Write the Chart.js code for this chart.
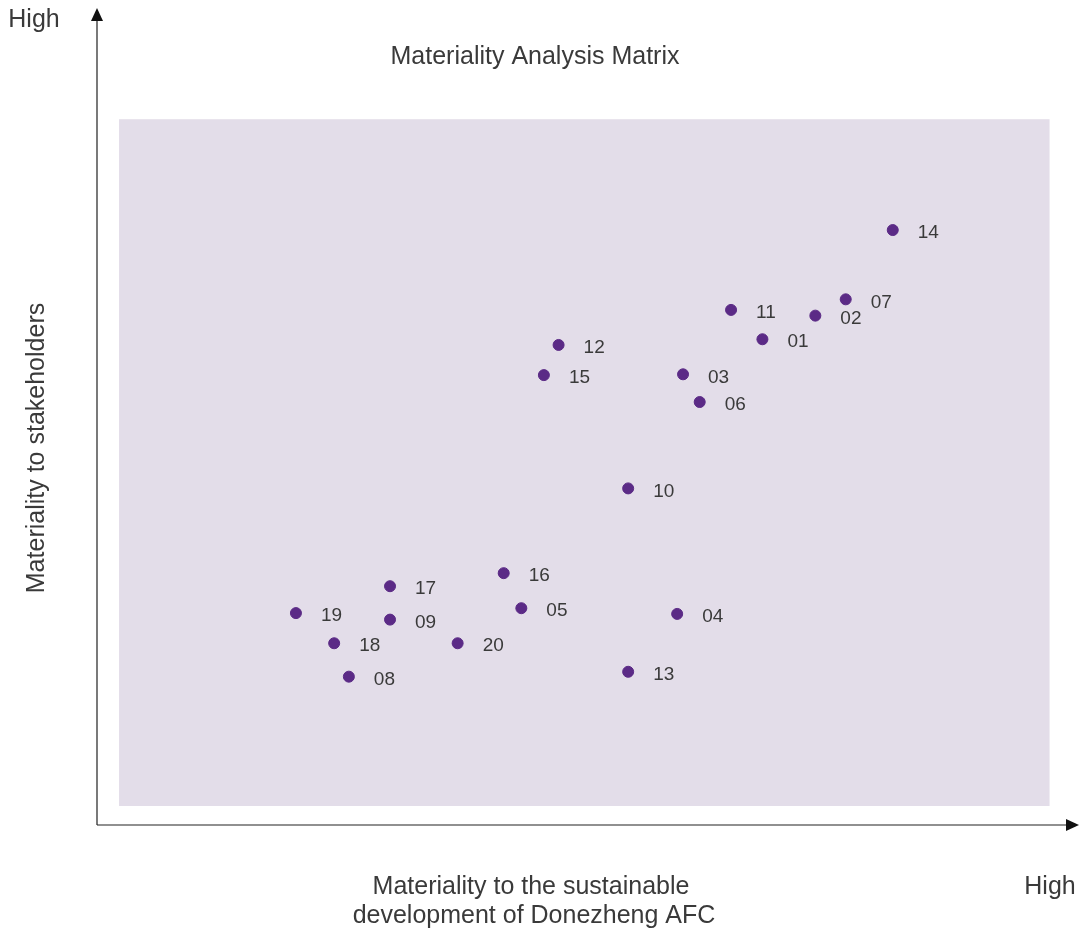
<!DOCTYPE html>
<html>
<head>
<meta charset="utf-8">
<title>Materiality Analysis Matrix</title>
<script src="https://cdn.jsdelivr.net/npm/chart.js@4.4.1/dist/chart.umd.min.js"></script>
<style>
    html, body { margin: 0; padding: 0; background: #ffffff; overflow: hidden; }
    #wrap { width: 1081px; height: 933px; position: relative; }
</style>
</head>
<body>
<div id="wrap"><canvas id="matrixChart"></canvas></div>
<script>
// Issue numbers and their position on the matrix (0-100 on both axes)
const ISSUES = ['14', '07', '02', '11', '01', '12', '15', '03', '06', '10',
                '16', '17', '19', '09', '05', '04', '18', '20', '08', '13'];
const X_VALUES = [81.2, 76.4, 73.3, 64.7, 67.9, 47.1, 45.6, 59.8, 61.5, 54.2,
                  41.5, 29.9, 20.3, 29.9, 43.3, 59.2, 24.2, 36.8, 25.7, 54.2];
const Y_VALUES = [73.0, 64.5, 62.5, 63.2, 59.6, 58.9, 55.2, 55.3, 51.9, 41.3,
                  30.9, 29.3, 26.0, 25.2, 26.6, 25.9, 22.3, 22.3, 18.2, 18.8];

const TITLE = 'Materiality Analysis Matrix';
const X_TITLE = ['Materiality to the sustainable', 'development of Donezheng AFC'];
const Y_TITLE = 'Materiality to stakeholders';
const HIGH = 'High';

const FONT = '"Liberation Sans", Arial, sans-serif';
const TEXT_COLOR = '#3a3a3a';
const DOT_COLOR = '#5b2a86';

// Shaded area, axes with arrows, labels and titles
const matrixPlugin = {
    id: 'matrix',
    beforeDatasetsDraw(chart) {
        const { ctx, scales: { x, y } } = chart;
        ctx.save();
        ctx.fillStyle = '#e3dde9';
        const x0 = x.getPixelForValue(2.25), x1 = x.getPixelForValue(97.2);
        const y0 = y.getPixelForValue(86.6), y1 = y.getPixelForValue(2.33);
        ctx.fillRect(x0, y0, x1 - x0, y1 - y0);

        // axes
        const ox = x.getPixelForValue(0), oy = y.getPixelForValue(0);
        const ex = x.getPixelForValue(100), ey = y.getPixelForValue(100);
        ctx.strokeStyle = '#222';
        ctx.lineWidth = 1.2;
        ctx.beginPath();
        ctx.moveTo(ox, oy);
        ctx.lineTo(ox, ey + 8);
        ctx.moveTo(ox, oy);
        ctx.lineTo(ex - 8, oy);
        ctx.stroke();
        ctx.fillStyle = '#111';
        ctx.beginPath();
        ctx.moveTo(ox, ey - 2);
        ctx.lineTo(ox - 6, ey + 11);
        ctx.lineTo(ox + 6, ey + 11);
        ctx.closePath();
        ctx.fill();
        ctx.beginPath();
        ctx.moveTo(ex + 2, oy);
        ctx.lineTo(ex - 11, oy - 6);
        ctx.lineTo(ex - 11, oy + 6);
        ctx.closePath();
        ctx.fill();
        ctx.restore();
    },
    afterDatasetsDraw(chart) {
        const { ctx } = chart;
        const meta = chart.getDatasetMeta(0);
        ctx.save();
        ctx.fillStyle = TEXT_COLOR;
        ctx.font = '19px ' + FONT;
        ctx.textAlign = 'left';
        ctx.textBaseline = 'middle';
        meta.data.forEach((pt, i) => {
            ctx.fillText(ISSUES[i], pt.x + 25, pt.y + 3);
        });

        ctx.font = '25px ' + FONT;
        ctx.textAlign = 'center';
        ctx.fillText(TITLE, 535, 57);
        ctx.fillText(HIGH, 34, 20);
        ctx.fillText(HIGH, 1050, 887);
        ctx.fillText(X_TITLE[0], 531, 887);
        ctx.fillText(X_TITLE[1], 534, 916);

        ctx.translate(37, 448);
        ctx.rotate(-Math.PI / 2);
        ctx.fillText(Y_TITLE, 0, 0);
        ctx.restore();
    }
};

const canvas = document.getElementById('matrixChart');
new Chart(canvas.getContext('2d'), {
    type: 'scatter',
    data: {
        datasets: [{
            label: 'Issues',
            data: X_VALUES.map((v, i) => ({ x: v, y: Y_VALUES[i] })),
            backgroundColor: DOT_COLOR,
            borderColor: DOT_COLOR,
            pointRadius: 5.5,
            pointHoverRadius: 5.5
        }]
    },
    options: {
        responsive: true,
        maintainAspectRatio: false,
        animation: false,
        layout: {
            autoPadding: false,
            padding: { left: 97, right: 4, top: 10, bottom: 108 }
        },
        plugins: {
            legend: { display: false },
            tooltip: { enabled: false }
        },
        scales: {
            x: { type: 'linear', min: 0, max: 100, display: false },
            y: { type: 'linear', min: 0, max: 100, display: false }
        }
    },
    plugins: [matrixPlugin]
});
</script>
</body>
</html>
